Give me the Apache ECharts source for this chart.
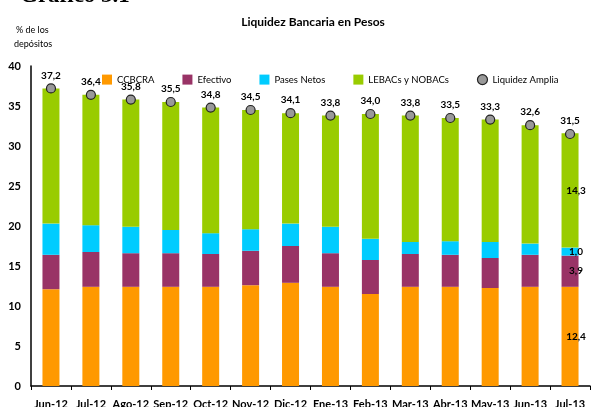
<!DOCTYPE html>
<html>
<head>
<meta charset="utf-8">
<script src="https://cdn.jsdelivr.net/npm/echarts@6/dist/echarts.min.js"></script>
<style>
  html, body { margin: 0; padding: 0; background: #fff; }
  #main { width: 592px; height: 407px; }
</style>
</head>
<body>
<div id="main"></div>
<script>
// meses
const months = ['Jun-12', 'Jul-12', 'Ago-12', 'Sep-12', 'Oct-12', 'Nov-12', 'Dic-12',
  'Ene-13', 'Feb-13', 'Mar-13', 'Abr-13', 'May-13', 'Jun-13', 'Jul-13'];

// componentes (% de los depositos)
const ccbcra   = [12.1, 12.4, 12.4, 12.4, 12.4, 12.6, 12.9, 12.4, 11.5, 12.4, 12.4, 12.25, 12.4, 12.4];
const efectivo = [4.3, 4.35, 4.2, 4.2, 4.1, 4.3, 4.6, 4.2, 4.25, 4.1, 4.0, 3.75, 4.0, 3.9];
const pases    = [3.9, 3.35, 3.3, 2.9, 2.6, 2.7, 2.8, 3.3, 2.65, 1.5, 1.7, 2.0, 1.4, 1.0];
const lebacs   = [16.9, 16.3, 15.9, 16.0, 15.7, 14.9, 13.8, 13.9, 15.6, 15.8, 15.4, 15.3, 14.8, 14.3];
const liquidez = [37.2, 36.4, 35.8, 35.5, 34.8, 34.5, 34.1, 33.8, 34.0, 33.8, 33.5, 33.3, 32.6, 31.5];

const yTicks = [0, 5, 10, 15, 20, 25, 30, 35, 40];

const font = 'Lato, "DejaVu Sans", sans-serif';
const fmt = v => v.toFixed(1).replace('.', ',');

// only the last bar carries labels
function withLastLabel(arr) {
  return arr.map((v, i) => {
    if (i !== arr.length - 1) return v;
    return {
      value: v,
      label: {
        show: true, position: 'inside', offset: [6, 0],
        formatter: p => fmt(p.value),
        fontFamily: font, fontWeight: 'bold', fontSize: 10, color: '#000'
      }
    };
  });
}

let myChart = echarts.init(document.getElementById('main'));
myChart.setOption({
  animation: false,
  graphic: [
    { type: 'text', left: 20, top: -15,
      style: { text: 'Gráfico 3.1', font: 'bold 23px "Liberation Serif", serif', fill: '#000' } },
    { type: 'text', left: 16, top: 26,
      style: { text: '% de los', font: '9px ' + font, fill: '#000' } },
    { type: 'text', left: 14, top: 40,
      style: { text: 'depósitos', font: '9px ' + font, fill: '#000' } }
  ],
  title: {
    text: 'Liquidez Bancaria en Pesos',
    left: 308, top: 11, textAlign: 'center',
    textStyle: { fontFamily: font, fontWeight: 'bold', fontSize: 12, color: '#000' }
  },
  legend: {
    left: 97, top: 69,
    itemWidth: 10, itemHeight: 10, itemGap: 28,
    textStyle: { fontFamily: font, fontSize: 9.5, color: '#000' },
    data: [
      { name: 'CCBCRA', icon: 'rect' },
      { name: 'Efectivo', icon: 'rect' },
      { name: 'Pases Netos', icon: 'rect' },
      { name: 'LEBACs y NOBACs', icon: 'rect' },
      { name: 'Liquidez Amplia', icon: 'circle', itemStyle: { borderWidth: 1.2, borderColor: '#222' } }
    ]
  },
  grid: { left: 31, right: 2, top: 66, bottom: 21, outerBoundsMode: 'none', containLabel: false },
  xAxis: {
    type: 'category',
    data: months,
    axisLine: { lineStyle: { color: '#000', width: 1.5 } },
    axisTick: { show: true, length: 4, inside: false, lineStyle: { color: '#000' } },
    axisLabel: { margin: 13, fontFamily: font, fontWeight: 'bold', fontSize: 11, color: '#000', interval: 0 }
  },
  yAxis: {
    type: 'value',
    min: yTicks[0], max: yTicks[yTicks.length - 1], interval: 5,
    axisLine: { show: true, lineStyle: { color: '#000', width: 1.5 } },
    axisTick: { show: false },
    splitLine: { show: false },
    axisLabel: { margin: 10, fontFamily: font, fontWeight: 'bold', fontSize: 11, color: '#000' }
  },
  series: [
    { name: 'CCBCRA', type: 'bar', stack: 'liq', barWidth: 17,
      itemStyle: { color: '#FF9900' }, data: withLastLabel(ccbcra) },
    { name: 'Efectivo', type: 'bar', stack: 'liq',
      itemStyle: { color: '#993366' }, data: withLastLabel(efectivo) },
    { name: 'Pases Netos', type: 'bar', stack: 'liq',
      itemStyle: { color: '#00CCFF' }, data: withLastLabel(pases) },
    { name: 'LEBACs y NOBACs', type: 'bar', stack: 'liq',
      itemStyle: { color: '#99CC00' }, data: withLastLabel(lebacs) },
    { name: 'Liquidez Amplia', type: 'line', data: liquidez,
      symbol: 'circle', symbolSize: 9,
      lineStyle: { opacity: 0 },
      itemStyle: { color: '#999999', borderColor: '#222', borderWidth: 1.2 },
      label: {
        show: true, position: 'top', distance: 3,
        formatter: p => fmt(p.value),
        fontFamily: font, fontWeight: 'bold', fontSize: 10, color: '#000'
      },
      z: 5
    }
  ]
});
</script>
</body>
</html>
